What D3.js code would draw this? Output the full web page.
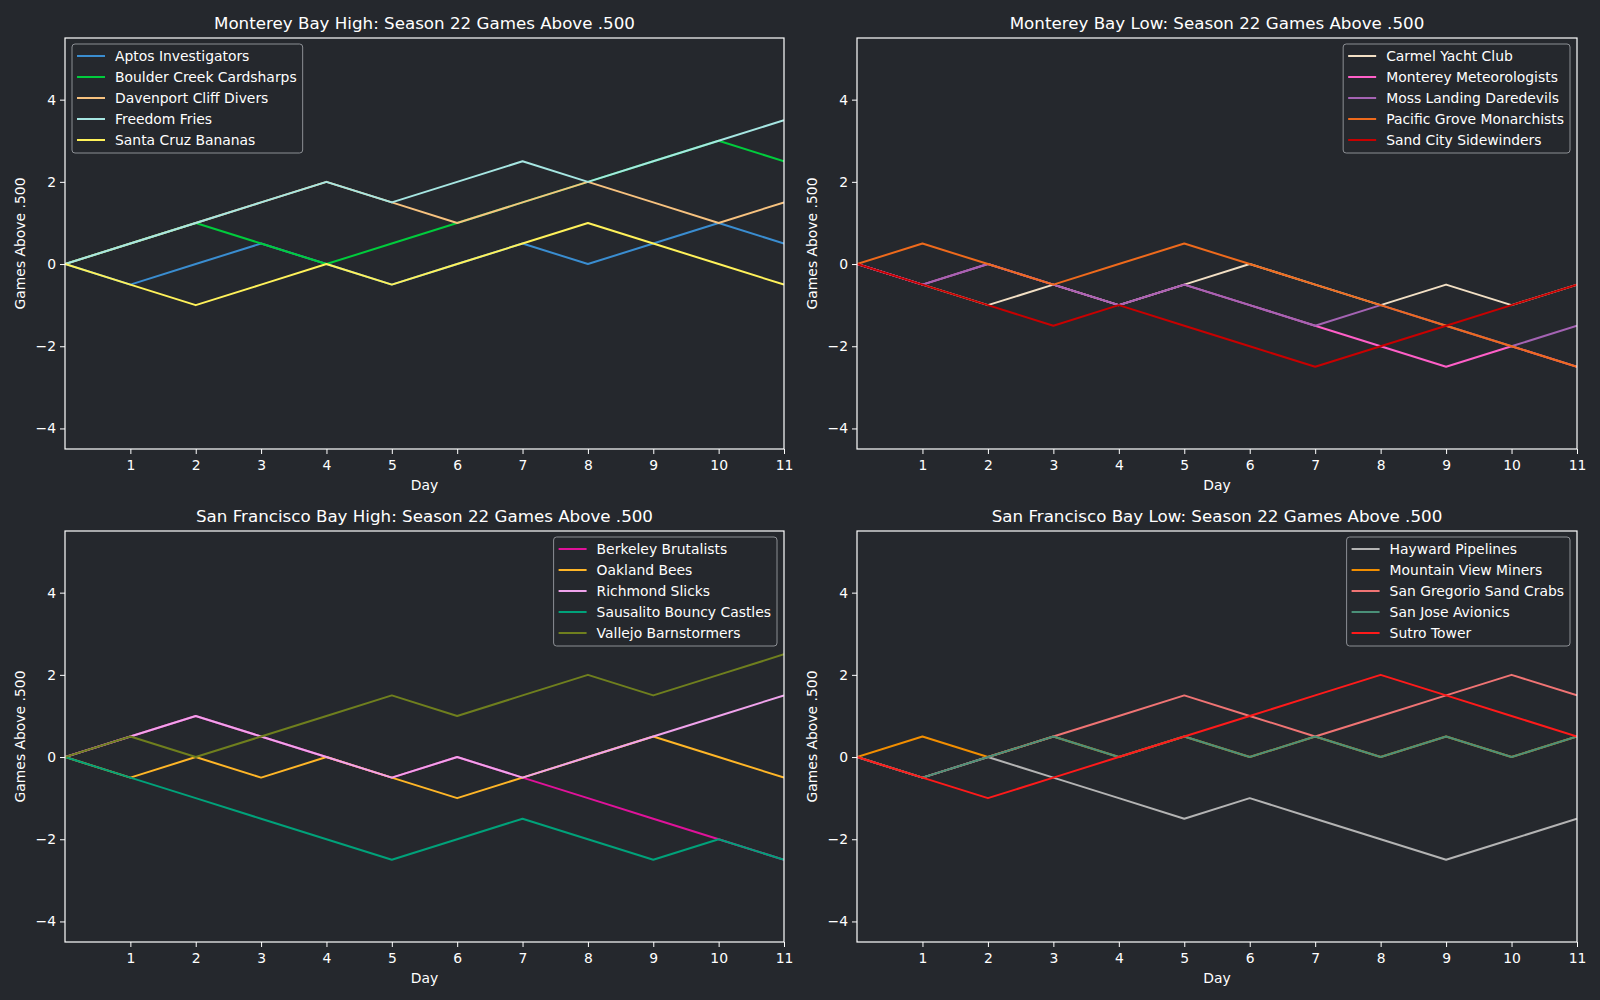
<!DOCTYPE html>
<html>
<head>
<meta charset="utf-8">
<script src="https://cdn.jsdelivr.net/npm/d3@7"></script>
<style>
  body { margin: 0; background: #25282d; }
  text { font-family: "DejaVu Sans", sans-serif; fill: #fff; }
</style>
</head>
<body>
<svg id="chart" width="1600" height="1000"></svg>
<script>
// days 0..11, games above .500 per team
const days   = [0, 1, 2, 3, 4, 5, 6, 7, 8, 9, 10, 11];
const xTicks = [1, 2, 3, 4, 5, 6, 7, 8, 9, 10, 11];
const yTicks = [-4, -2, 0, 2, 4];

// Monterey Bay High
const aptos     = [0, -0.5, 0, 0.5, 0, -0.5, 0, 0.5, 0, 0.5, 1, 0.5];
const boulder   = [0, 0.5, 1, 0.5, 0, 0.5, 1, 1.5, 2, 2.5, 3, 2.5];
const davenport = [0, 0.5, 1, 1.5, 2, 1.5, 1, 1.5, 2, 1.5, 1, 1.5];
const freedom   = [0, 0.5, 1, 1.5, 2, 1.5, 2, 2.5, 2, 2.5, 3, 3.5];
const santaCruz = [0, -0.5, -1, -0.5, 0, -0.5, 0, 0.5, 1, 0.5, 0, -0.5];

// Monterey Bay Low
const carmel    = [0, -0.5, -1, -0.5, -1, -0.5, 0, -0.5, -1, -0.5, -1, -0.5];
const monterey  = [0, -0.5, 0, -0.5, -1, -0.5, -1, -1.5, -2, -2.5, -2, -2.5];
const moss      = [0, -0.5, 0, -0.5, -1, -0.5, -1, -1.5, -1, -1.5, -2, -1.5];
const pacific   = [0, 0.5, 0, -0.5, 0, 0.5, 0, -0.5, -1, -1.5, -2, -2.5];
const sandCity  = [0, -0.5, -1, -1.5, -1, -1.5, -2, -2.5, -2, -1.5, -1, -0.5];

// San Francisco Bay High
const berkeley  = [0, 0.5, 1, 0.5, 0, -0.5, 0, -0.5, -1, -1.5, -2, -2.5];
const oakland   = [0, -0.5, 0, -0.5, 0, -0.5, -1, -0.5, 0, 0.5, 0, -0.5];
const richmond  = [0, 0.5, 1, 0.5, 0, -0.5, 0, -0.5, 0, 0.5, 1, 1.5];
const sausalito = [0, -0.5, -1, -1.5, -2, -2.5, -2, -1.5, -2, -2.5, -2, -2.5];
const vallejo   = [0, 0.5, 0, 0.5, 1, 1.5, 1, 1.5, 2, 1.5, 2, 2.5];

// San Francisco Bay Low
const hayward   = [0, -0.5, 0, -0.5, -1, -1.5, -1, -1.5, -2, -2.5, -2, -1.5];
const mtnView   = [0, 0.5, 0, 0.5, 0, 0.5, 0, 0.5, 0, 0.5, 0, 0.5];
const gregorio  = [0, -0.5, 0, 0.5, 1, 1.5, 1, 0.5, 1, 1.5, 2, 1.5];
const sanJose   = [0, -0.5, 0, 0.5, 0, 0.5, 0, 0.5, 0, 0.5, 0, 0.5];
const sutro     = [0, -0.5, -1, -0.5, 0, 0.5, 1, 1.5, 2, 1.5, 1, 0.5];

const panels = [
  { title: 'Monterey Bay High: Season 22 Games Above .500', legend: 'left',
    box: [65, 784, 38, 449],
    series: [
      ['Aptos Investigators', aptos, '#3a8dd0'],
      ['Boulder Creek Cardsharps', boulder, '#00cc3c'],
      ['Davenport Cliff Divers', davenport, '#f7c27f'],
      ['Freedom Fries', freedom, '#a6e6e2'],
      ['Santa Cruz Bananas', santaCruz, '#fff25a'],
    ] },
  { title: 'Monterey Bay Low: Season 22 Games Above .500', legend: 'right',
    box: [857, 1577, 38, 449],
    series: [
      ['Carmel Yacht Club', carmel, '#f2dfc4'],
      ['Monterey Meteorologists', monterey, '#ff5fc8'],
      ['Moss Landing Daredevils', moss, '#a463b3'],
      ['Pacific Grove Monarchists', pacific, '#ee6a1c'],
      ['Sand City Sidewinders', sandCity, '#c80000'],
    ] },
  { title: 'San Francisco Bay High: Season 22 Games Above .500', legend: 'right',
    box: [65, 784, 531, 942],
    series: [
      ['Berkeley Brutalists', berkeley, '#e0129a'],
      ['Oakland Bees', oakland, '#ffb627'],
      ['Richmond Slicks', richmond, '#f0a3ec'],
      ['Sausalito Bouncy Castles', sausalito, '#00a27a'],
      ['Vallejo Barnstormers', vallejo, '#6f7f1e'],
    ] },
  { title: 'San Francisco Bay Low: Season 22 Games Above .500', legend: 'right',
    box: [857, 1577, 531, 942],
    series: [
      ['Hayward Pipelines', hayward, '#b4b4b4'],
      ['Mountain View Miners', mtnView, '#f28e00'],
      ['San Gregorio Sand Crabs', gregorio, '#f07474'],
      ['San Jose Avionics', sanJose, '#4a9078'],
      ['Sutro Tower', sutro, '#ff1a1a'],
    ] },
];

const svg = d3.select('#chart');
const fmt = d => (d < 0 ? '\u2212' + Math.abs(d) : String(d));

panels.forEach(p => {
  const [x0, x1, y0, y1] = p.box;
  const x = d3.scaleLinear().domain([0, 11]).range([x0, x1]);
  const y = d3.scaleLinear().domain([-4.5, 5.5]).range([y1, y0]);
  const g = svg.append('g');

  const clipId = 'clip' + x0 + '_' + y0;
  g.append('clipPath').attr('id', clipId).append('rect')
    .attr('x', x0).attr('y', y0).attr('width', x1 - x0).attr('height', y1 - y0);

  const line = d3.line().x((d, i) => x(days[i])).y(d => y(d));
  const lg = g.append('g').attr('clip-path', `url(#${clipId})`);
  p.series.forEach(([name, vals, col]) => {
    lg.append('path').datum(vals).attr('d', line)
      .attr('fill', 'none').attr('stroke', col).attr('stroke-width', 2)
      .attr('stroke-linejoin', 'round');
  });

  // axes
  const ax = g.append('g').attr('transform', `translate(0,${y1})`)
    .call(d3.axisBottom(x).tickValues(xTicks).tickSize(5).tickPadding(6));
  const ay = g.append('g').attr('transform', `translate(${x0},0)`)
    .call(d3.axisLeft(y).tickValues(yTicks).tickFormat(fmt).tickSize(5).tickPadding(4));
  [ax, ay].forEach(a => {
    a.select('.domain').remove();
    a.selectAll('line').attr('stroke', '#fff');
    a.selectAll('text').attr('fill', '#fff').style('font-size', '13.9px')
      .style('font-family', '"DejaVu Sans", sans-serif');
  });

  // spines
  g.append('rect').attr('x', x0).attr('y', y0).attr('width', x1 - x0).attr('height', y1 - y0)
    .attr('fill', 'none').attr('stroke', '#fff').attr('stroke-width', 1.2);

  g.append('text').attr('x', (x0 + x1) / 2).attr('y', y0 - 9)
    .attr('text-anchor', 'middle').attr('font-size', 16.7).text(p.title);
  g.append('text').attr('x', (x0 + x1) / 2).attr('y', y1 + 41)
    .attr('text-anchor', 'middle').attr('font-size', 13.9).text('Day');
  g.append('text').attr('transform', `translate(${x0 - 40},${(y0 + y1) / 2}) rotate(-90)`)
    .attr('text-anchor', 'middle').attr('font-size', 13.9).text('Games Above .500');

  // legend
  const leg = g.append('g');
  const frame = leg.append('rect');
  const texts = [];
  p.series.forEach(([name, , col], i) => {
    const ry = 12 + i * 21;
    leg.append('line').attr('x1', 5).attr('x2', 33).attr('y1', ry).attr('y2', ry)
      .attr('stroke', col).attr('stroke-width', 2);
    texts.push(leg.append('text').attr('x', 43).attr('y', ry + 5).attr('font-size', 13.9).text(name));
  });
  const tw = d3.max(texts, t => t.node().getComputedTextLength());
  const lw = 43 + tw + 6, lh = 109;
  frame.attr('width', lw).attr('height', lh).attr('rx', 3)
    .attr('fill', '#25282d').attr('fill-opacity', 0.8)
    .attr('stroke', '#8c8f94').attr('stroke-width', 1);
  const lx = p.legend === 'left' ? x0 + 7 : x1 - 7 - lw;
  leg.attr('transform', `translate(${lx},${y0 + 6})`);
});
</script>
</body>
</html>
